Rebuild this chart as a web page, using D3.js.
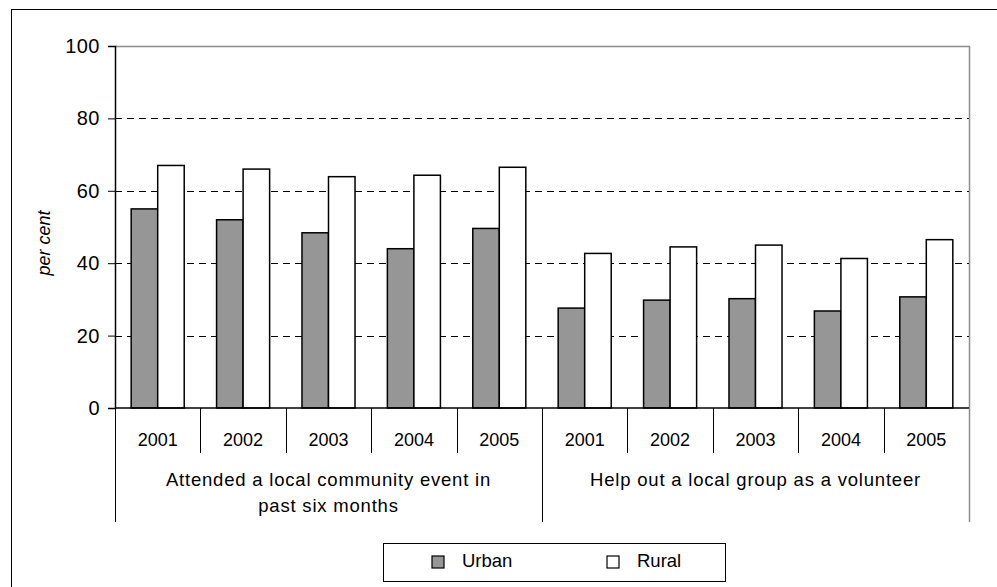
<!doctype html>
<html>
<head>
<meta charset="utf-8">
<title>Urban and rural participation</title>
<style>
  body { margin: 0; background: #fff; }
  text { font-family: "Liberation Sans", Arial, sans-serif; fill: #000; }
</style>
</head>
<body>
<script src="https://d3js.org/d3.v7.min.js"></script>
<script>
  // data
  var years = ["2001", "2002", "2003", "2004", "2005"];
  var groupLines = [
    ["Attended a local community event in", "past six months"],
    ["Help out a local group as a volunteer"]
  ];
  var seriesNames = ["Urban", "Rural"];
  var urban = [55, 52, 48.4, 44, 49.6, 27.6, 29.8, 30.2, 26.8, 30.7];
  var rural = [67, 66, 63.9, 64.3, 66.5, 42.7, 44.5, 45, 41.3, 46.5];
  var yTicks = [0, 20, 40, 60, 80, 100];

  var w = 997, h = 587;
  var plotL = 115, plotR = 969, plotT = 46, plotB = 408;

  var svg = d3.select("body").append("svg")
    .attr("width", w)
    .attr("height", h);

  // outer frame
  svg.append("rect")
    .attr("x", 11.5).attr("y", 9.5)
    .attr("width", 1000).attr("height", 600)
    .attr("fill", "none").attr("stroke", "#000").attr("stroke-width", 1);

  // categories: one per group/year
  var cats = [];
  groupLines.forEach(function(g, gi) {
    years.forEach(function(y) { cats.push(gi + "-" + y); });
  });

  var x0 = d3.scaleBand().domain(cats).range([plotL, plotR]).padding(0);
  var x1 = d3.scaleBand().domain(seriesNames).range([0, x0.bandwidth()])
    .paddingInner(0).paddingOuter(0.61);
  var y = d3.scaleLinear().domain([0, 100]).range([plotB, plotT]);

  // plot border (grey top and right)
  svg.append("path")
    .attr("d", "M" + plotL + "," + (plotT + 0.5) + "H" + (plotR + 0.5) + "V" + plotB)
    .attr("fill", "none").attr("stroke", "#8c8c8c").attr("stroke-width", 1.5);

  // dashed gridlines
  svg.append("g").selectAll("line")
    .data(yTicks.filter(function(d) { return d > 0 && d < 100; }))
    .enter().append("line")
    .attr("x1", plotL).attr("x2", plotR)
    .attr("y1", function(d) { return Math.round(y(d)) + 0.5; })
    .attr("y2", function(d) { return Math.round(y(d)) + 0.5; })
    .attr("stroke", "#000").attr("stroke-width", 1)
    .attr("stroke-dasharray", "7,5");

  // bars
  var rows = cats.map(function(c, i) { return { cat: c, Urban: urban[i], Rural: rural[i] }; });
  var fills = { Urban: "#969696", Rural: "#ffffff" };

  svg.append("g").selectAll("g")
    .data(rows)
    .enter().append("g")
    .attr("transform", function(d) { return "translate(" + x0(d.cat) + ",0)"; })
    .selectAll("rect")
    .data(function(d) { return seriesNames.map(function(s) { return { s: s, v: d[s] }; }); })
    .enter().append("rect")
    .attr("x", function(d) { return x1(d.s); })
    .attr("width", x1.bandwidth())
    .attr("y", function(d) { return y(d.v); })
    .attr("height", function(d) { return plotB - y(d.v); })
    .attr("fill", function(d) { return fills[d.s]; })
    .attr("stroke", "#000").attr("stroke-width", 1.5);

  // y axis
  var yAxis = d3.axisLeft(y).tickValues(yTicks).tickSize(7).tickPadding(8);
  var yg = svg.append("g").attr("transform", "translate(" + plotL + ",0)").call(yAxis);
  yg.select(".domain").attr("stroke", "#000").attr("stroke-width", 1.5);
  yg.selectAll(".tick line").attr("stroke", "#000");
  yg.selectAll("text")
    .style("font-size", "20px")
    .style("letter-spacing", "0.5px")
    .style("font-family", "Liberation Sans, Arial, sans-serif");

  // x axis baseline
  svg.append("line")
    .attr("x1", plotL).attr("x2", plotR)
    .attr("y1", plotB).attr("y2", plotB)
    .attr("stroke", "#000").attr("stroke-width", 1.5);

  // year separators
  var bounds = cats.map(function(c) { return x0(c); }).concat([plotR]);
  svg.append("g").selectAll("line")
    .data(bounds)
    .enter().append("line")
    .attr("x1", function(d) { return Math.round(d) + 0.5; })
    .attr("x2", function(d) { return Math.round(d) + 0.5; })
    .attr("y1", plotB)
    .attr("y2", function(d, i) { return (i % years.length === 0) ? 522 : 453; })
    .attr("stroke", function(d, i) { return i === bounds.length - 1 ? "#8c8c8c" : "#000"; })
    .attr("stroke-width", function(d, i) { return i === bounds.length - 1 ? 1.5 : 1; });

  // year labels
  svg.append("g").selectAll("text")
    .data(cats)
    .enter().append("text")
    .attr("x", function(d) { return x0(d) + x0.bandwidth() / 2; })
    .attr("y", 446)
    .attr("text-anchor", "middle")
    .style("font-size", "18px")
    .text(function(d) { return d.split("-")[1]; });

  // group labels
  groupLines.forEach(function(lines, gi) {
    var first = x0(gi + "-" + years[0]);
    var last = x0(gi + "-" + years[years.length - 1]) + x0.bandwidth();
    svg.append("text")
      .attr("x", (first + last) / 2)
      .attr("y", 486)
      .attr("text-anchor", "middle")
      .style("font-size", "18.5px")
      .style("letter-spacing", "0.8px")
      .selectAll("tspan")
      .data(lines)
      .enter().append("tspan")
      .attr("x", (first + last) / 2)
      .attr("dy", function(d, i) { return i === 0 ? 0 : 26; })
      .text(function(d) { return d; });
  });

  // y axis title
  svg.append("text")
    .attr("transform", "translate(50,243) rotate(-90)")
    .attr("text-anchor", "middle")
    .style("font-size", "18px")
    .style("font-style", "italic")
    .text("per cent");

  // legend
  var legend = svg.append("g");
  legend.append("rect")
    .attr("x", 383.5).attr("y", 543.5)
    .attr("width", 342).attr("height", 38)
    .attr("fill", "#fff").attr("stroke", "#000").attr("stroke-width", 1);

  var legendX = [432, 607];
  var items = legend.selectAll("g.item")
    .data(seriesNames)
    .enter().append("g").attr("class", "item")
    .attr("transform", function(d, i) { return "translate(" + legendX[i] + ",0)"; });
  items.append("rect")
    .attr("x", 0).attr("y", 556)
    .attr("width", 12).attr("height", 12)
    .attr("fill", function(d) { return fills[d]; })
    .attr("stroke", "#000").attr("stroke-width", 1.2);
  items.append("text")
    .attr("x", 30).attr("y", 567)
    .style("font-size", "18.5px")
    .text(function(d) { return d; });
</script>
</body>
</html>
